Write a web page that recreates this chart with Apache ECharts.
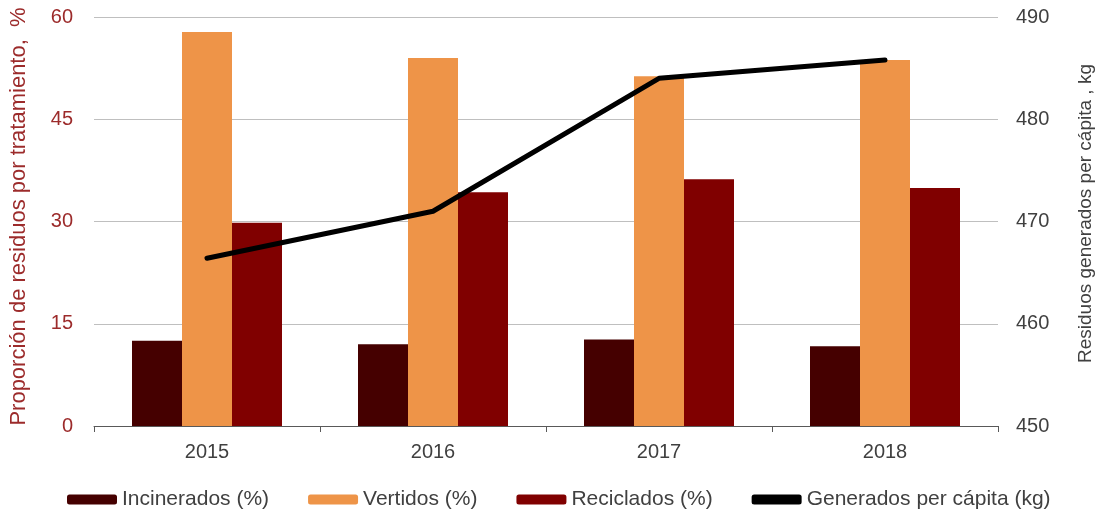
<!DOCTYPE html>
<html>
<head>
<meta charset="utf-8">
<script src="https://cdn.jsdelivr.net/npm/echarts@6/dist/echarts.min.js"></script>
<style>
html,body{margin:0;padding:0;background:#fff;}
#c{width:1104px;height:509px;}
</style>
</head>
<body>
<div id="c"></div>
<script>
const years = ['2015', '2016', '2017', '2018'];
const incinerados = [12.5, 12.0, 12.7, 11.7];
const vertidos = [57.8, 54.0, 51.3, 53.7];
const reciclados = [29.8, 34.3, 36.2, 34.9];
const generados = [466.4, 471.0, 484.0, 485.8];
const leftTicks = {min: 0, max: 60, interval: 15};
const rightTicks = {min: 450, max: 490, interval: 10};

const chart = echarts.init(document.getElementById('c'));
const font = '"Liberation Sans", Arial, sans-serif';
chart.setOption({
  animation: false,
  textStyle: {fontFamily: font},
  grid: {left: 94, right: 106, top: 17, bottom: 83},
  legend: {
    left: 62, top: 484,
    itemWidth: 50, itemHeight: 10, itemGap: 39,
    textStyle: {fontFamily: font, fontSize: 21, color: '#404040'},
    data: ['Incinerados (%)', 'Vertidos (%)', 'Reciclados (%)',
      {name: 'Generados per cápita (kg)', icon: 'roundRect'}]
  },
  xAxis: {
    type: 'category',
    data: years,
    axisLine: {lineStyle: {color: '#595959', width: 1}},
    axisTick: {show: true, length: 6, lineStyle: {color: '#595959'}},
    axisLabel: {fontFamily: font, fontSize: 20, color: '#404040', margin: 16}
  },
  yAxis: [
    {
      type: 'value', min: leftTicks.min, max: leftTicks.max, interval: leftTicks.interval,
      name: 'Proporción de residuos por tratamiento,  %',
      nameLocation: 'middle', nameGap: 64,
      nameTextStyle: {fontFamily: font, fontSize: 22, color: '#9C2B2B', padding: [0, 0, 0, 10]},
      axisLine: {show: false}, axisTick: {show: false},
      axisLabel: {fontFamily: font, fontSize: 20, color: '#9C2B2B', margin: 21},
      splitLine: {lineStyle: {color: '#BFBFBF', width: 1}}
    },
    {
      type: 'value', min: rightTicks.min, max: rightTicks.max, interval: rightTicks.interval,
      name: 'Residuos generados per cápita , kg',
      nameLocation: 'middle', nameGap: 78,
      nameTextStyle: {fontFamily: font, fontSize: 19, color: '#404040', padding: [0, 0, 0, 16]},
      axisLine: {show: false}, axisTick: {show: false},
      axisLabel: {fontFamily: font, fontSize: 20, color: '#404040', margin: 18},
      splitLine: {show: false}
    }
  ],
  series: [
    {name: 'Incinerados (%)', type: 'bar', data: incinerados, barWidth: 50, barGap: '0%',
     itemStyle: {color: '#450000'}},
    {name: 'Vertidos (%)', type: 'bar', data: vertidos, barWidth: 50, barGap: '0%',
     itemStyle: {color: '#EE9448'}},
    {name: 'Reciclados (%)', type: 'bar', data: reciclados, barWidth: 50, barGap: '0%',
     itemStyle: {color: '#800000'}},
    {name: 'Generados per cápita (kg)', type: 'line', yAxisIndex: 1, data: generados,
     symbol: 'none', itemStyle: {color: '#000000'},
     lineStyle: {color: '#000000', width: 5, cap: 'round', join: 'round'}}
  ]
});
</script>
</body>
</html>
